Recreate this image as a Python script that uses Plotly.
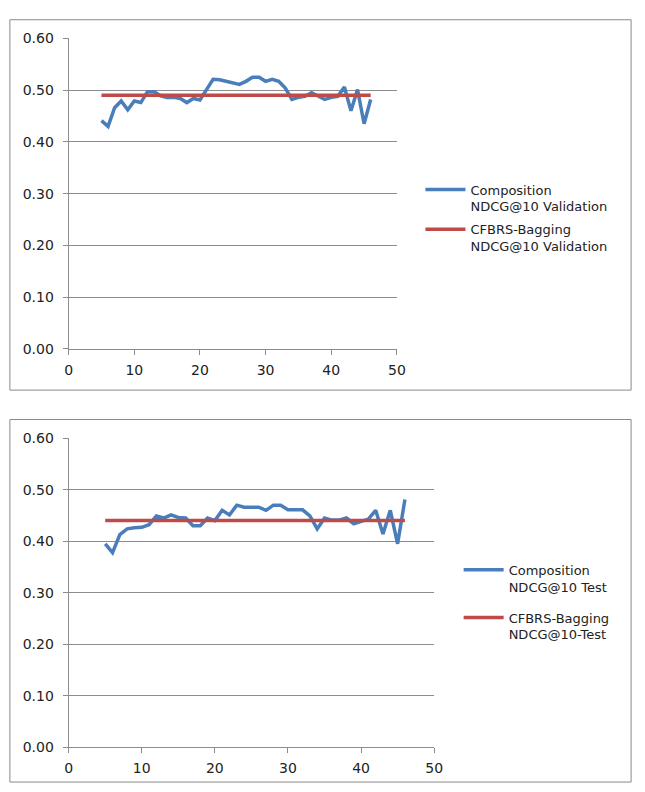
import plotly.graph_objects as go

x_vals = list(range(5, 47))

val_composition = [0.441, 0.430, 0.466, 0.479, 0.462, 0.479, 0.476, 0.497, 0.497, 0.489,
                   0.486, 0.486, 0.484, 0.476, 0.484, 0.481, 0.501, 0.521, 0.520, 0.517,
                   0.515, 0.511, 0.517, 0.525, 0.525, 0.517, 0.521, 0.517, 0.504, 0.482,
                   0.486, 0.488, 0.495, 0.488, 0.482, 0.486, 0.488, 0.506, 0.460, 0.501,
                   0.435, 0.482]
test_composition = [0.395, 0.378, 0.413, 0.424, 0.426, 0.427, 0.432, 0.449, 0.445, 0.451,
                    0.446, 0.445, 0.430, 0.430, 0.445, 0.440, 0.460, 0.451, 0.470, 0.466,
                    0.466, 0.466, 0.460, 0.470, 0.470, 0.461, 0.461, 0.461, 0.449, 0.424,
                    0.445, 0.441, 0.441, 0.445, 0.434, 0.439, 0.443, 0.460, 0.414, 0.460,
                    0.395, 0.481]
bag_x = [5, 46]
val_bagging = [0.49, 0.49]
test_bagging = [0.44, 0.44]

y_ticks = [0.0, 0.1, 0.2, 0.3, 0.4, 0.5, 0.6]
y_ticklabels = ["0.00", "0.10", "0.20", "0.30", "0.40", "0.50", "0.60"]
x_ticks = [0, 10, 20, 30, 40, 50]

BLUE = "#4A7EBB"
RED = "#BE4B48"
GRID = "#8C8C8C"
FONT = "'DejaVu Sans', sans-serif"

W, H = 645, 792

def px_x(p):
    return p / W

def px_y(p):
    return 1 - p / H

fig = go.Figure()

fig.add_trace(go.Scatter(x=x_vals, y=val_composition, mode="lines",
                         line=dict(color=BLUE, width=3.5),
                         name="Composition<br>NDCG@10 Validation",
                         legendgroup="a", xaxis="x", yaxis="y", legend="legend"))
fig.add_trace(go.Scatter(x=bag_x, y=val_bagging, mode="lines",
                         line=dict(color=RED, width=3.5),
                         name="CFBRS-Bagging<br>NDCG@10 Validation",
                         legendgroup="b", xaxis="x", yaxis="y", legend="legend"))
fig.add_trace(go.Scatter(x=x_vals, y=test_composition, mode="lines",
                         line=dict(color=BLUE, width=3.5),
                         name="Composition<br>NDCG@10 Test",
                         legendgroup="c", xaxis="x2", yaxis="y2", legend="legend2"))
fig.add_trace(go.Scatter(x=bag_x, y=test_bagging, mode="lines",
                         line=dict(color=RED, width=3.5),
                         name="CFBRS-Bagging<br>NDCG@10-Test",
                         legendgroup="d", xaxis="x2", yaxis="y2", legend="legend2"))

xaxis_common = dict(range=[0, 50], tickvals=x_ticks, showgrid=False, zeroline=False,
                    showline=True, linecolor=GRID, linewidth=1, ticks="outside",
                    tickcolor=GRID, ticklen=5, ticklabelstandoff=3,
                    tickfont=dict(family=FONT, size=14, color="#222"),
                    fixedrange=True)
yaxis_common = dict(range=[0, 0.6], tickvals=y_ticks, ticktext=y_ticklabels,
                    showgrid=True, gridcolor=GRID, gridwidth=1, zeroline=False,
                    showline=True, linecolor=GRID, linewidth=1, ticks="outside",
                    tickcolor=GRID, ticklen=5, ticklabelstandoff=6,
                    tickfont=dict(family=FONT, size=14, color="#222"),
                    fixedrange=True)

legend_common = dict(font=dict(family=FONT, size=13, color="#222"),
                     bgcolor="rgba(0,0,0,0)", valign="top", itemwidth=40,
                     xanchor="left", yanchor="top")

fig.update_layout(
    width=W, height=H,
    margin=dict(l=0, r=0, t=0, b=0),
    paper_bgcolor="white", plot_bgcolor="white",
    font=dict(family=FONT, size=13, color="#222"),
    xaxis=dict(domain=[px_x(66), px_x(401)], anchor="y", **xaxis_common),
    yaxis=dict(domain=[px_y(348), px_y(31)], anchor="x", **yaxis_common),
    xaxis2=dict(domain=[px_x(66), px_x(439)], anchor="y2", **xaxis_common),
    yaxis2=dict(domain=[px_y(754.7), px_y(439)], anchor="x2", **yaxis_common),
    legend=dict(x=px_x(425), y=px_y(170), tracegroupgap=3, **legend_common),
    legend2=dict(x=px_x(464), y=px_y(558), tracegroupgap=11, **legend_common),
    shapes=[
        dict(type="rect", xref="paper", yref="paper",
             x0=px_x(6), x1=px_x(640), y0=px_y(390), y1=px_y(12),
             line=dict(color="#8A8A8A", width=1), fillcolor="rgba(0,0,0,0)"),
        dict(type="rect", xref="paper", yref="paper",
             x0=px_x(6), x1=px_x(640), y0=px_y(790), y1=px_y(420),
             line=dict(color="#8A8A8A", width=1), fillcolor="rgba(0,0,0,0)"),
    ],
)

fig.write_html("out.html",
               config={"displayModeBar": False, "staticPlot": True},
               post_script="document.documentElement.style.margin='0';document.body.style.margin='0';document.body.style.padding='0';")
